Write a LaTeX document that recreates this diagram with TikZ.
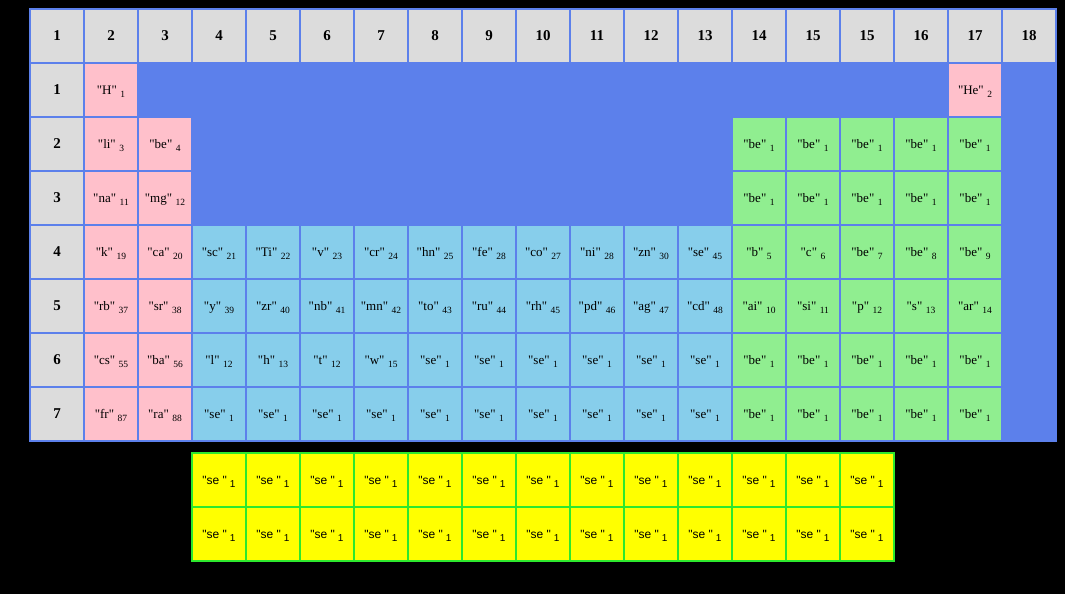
\documentclass[tikz,border=0pt]{standalone}
\usepackage{fontspec}
\setmainfont{Liberation Serif}[Ligatures=TeXOff]
\newfontfamily\yfont{Liberation Sans}[Ligatures=TeXOff]
\definecolor{tblblue}{RGB}{92,128,235}
\definecolor{hdrgray}{RGB}{220,220,220}
\definecolor{cpink}{RGB}{255,192,203}
\definecolor{csky}{RGB}{135,206,235}
\definecolor{cgreen}{RGB}{144,238,144}
\definecolor{cyellow}{RGB}{255,255,0}
\definecolor{gline}{RGB}{45,232,45}
\newcommand\dq{\symbol{34}}
\newcommand\elm[2]{\dq#1\dq\hspace{3.5pt}\raisebox{-3.5pt}{\fontsize{9.5}{9.5}\selectfont #2}}
\newcommand\yelm[2]{\dq#1 \dq\hspace{3pt}\raisebox{-3.5pt}{\fontsize{10}{10}\selectfont #2}}
\tikzset{
  cellbox/.style={minimum width=52pt, minimum height=52pt, inner sep=0pt, outer sep=0pt,
    text height=10pt, text depth=2pt, font=\fontsize{13}{13}\selectfont},
  hdr/.style={cellbox, fill=hdrgray, text height=11pt, text depth=1.5pt, font=\fontsize{15}{15}\selectfont\bfseries},
  pinkcell/.style={cellbox, fill=cpink},
  skycell/.style={cellbox, fill=csky},
  greencell/.style={cellbox, fill=cgreen},
  yelcell/.style={cellbox, minimum width=54pt, minimum height=54pt, fill=cyellow, draw=gline, line width=2pt,
    font=\yfont\fontsize{12}{12}\selectfont},
}
\begin{document}
\begin{tikzpicture}[x=1pt, y=-1pt]
\useasboundingbox (0,0) rectangle (1065,594);
\fill[black] (0,0) rectangle (1065,594);
\fill[tblblue] (29,8) rectangle (1057,442);
% header row
\foreach \t [count=\i from 0] in {1,2,3,4,5,6,7,8,9,10,11,12,13,14,15,15,16,17,18}
  \node[hdr] (h\i) at ({57+54*\i},36) {\t};
% row labels
\foreach \j in {1,...,7}
  \node[hdr] (r\j) at (57,{36+54*\j}) {\j};
% pink cells
\foreach \i/\j/\s/\n in {1/1/H/1, 17/1/He/2, 1/2/li/3, 2/2/be/4, 1/3/na/11, 2/3/mg/12,
    1/4/k/19, 2/4/ca/20, 1/5/rb/37, 2/5/sr/38, 1/6/cs/55, 2/6/ba/56, 1/7/fr/87, 2/7/ra/88}
  \node[pinkcell] (p\i-\j) at ({57+54*\i},{36+54*\j}) {\elm{\s}{\n}};
% sky-blue cells
\foreach \s/\n [count=\i from 3] in {sc/21, Ti/22, v/23, cr/24, hn/25, fe/28, co/27, ni/28, zn/30, se/45}
  \node[skycell] (s\i-4) at ({57+54*\i},252) {\elm{\s}{\n}};
\foreach \s/\n [count=\i from 3] in {y/39, zr/40, nb/41, mn/42, to/43, ru/44, rh/45, pd/46, ag/47, cd/48}
  \node[skycell] (s\i-5) at ({57+54*\i},306) {\elm{\s}{\n}};
\foreach \s/\n [count=\i from 3] in {l/12, h/13, t/12, w/15, se/1, se/1, se/1, se/1, se/1, se/1}
  \node[skycell] (s\i-6) at ({57+54*\i},360) {\elm{\s}{\n}};
\foreach \i in {3,...,12}
  \node[skycell] (s\i-7) at ({57+54*\i},414) {\elm{se}{1}};
% green cells
\foreach \j in {2,3,6,7}
  \foreach \i in {13,...,17}
    \node[greencell] (g\i-\j) at ({57+54*\i},{36+54*\j}) {\elm{be}{1}};
\foreach \s/\n [count=\i from 13] in {b/5, c/6, be/7, be/8, be/9}
  \node[greencell] (g\i-4) at ({57+54*\i},252) {\elm{\s}{\n}};
\foreach \s/\n [count=\i from 13] in {ai/10, si/11, p/12, s/13, ar/14}
  \node[greencell] (g\i-5) at ({57+54*\i},306) {\elm{\s}{\n}};
% yellow table
\foreach \m in {0,1}
  \foreach \k in {0,...,12}
    \node[yelcell] (y\k-\m) at ({219+54*\k},{480+54*\m}) {\yelm{se}{1}};
\end{tikzpicture}
\end{document}
